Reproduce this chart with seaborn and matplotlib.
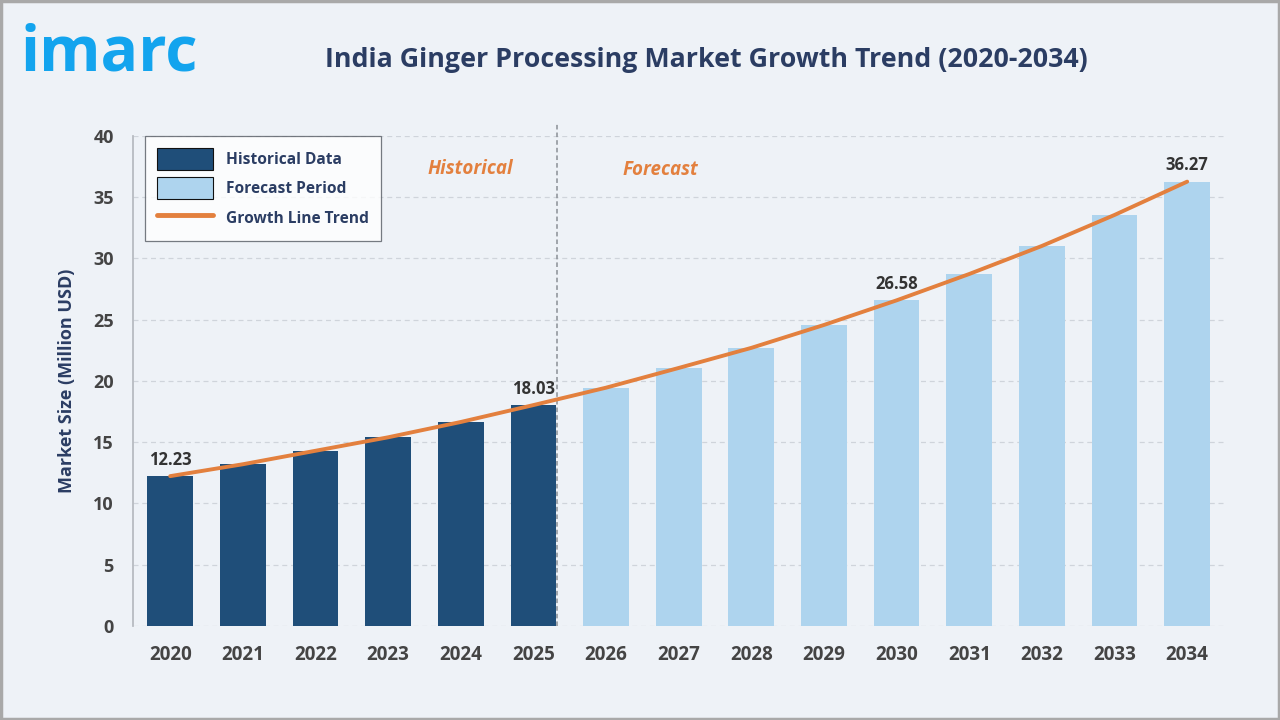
import numpy as np
import pandas as pd
import matplotlib.pyplot as plt
import seaborn as sns

years = ["2020", "2021", "2022", "2023", "2024", "2025", "2026", "2027",
         "2028", "2029", "2030", "2031", "2032", "2033", "2034"]
values = [12.23, 13.2, 14.3, 15.4, 16.65, 18.03, 19.45, 21.06,
          22.7, 24.57, 26.58, 28.73, 31.02, 33.55, 36.27]
periods = ["Historical Data"] * 6 + ["Forecast Period"] * 9
labelled = {"2020": "12.23", "2025": "18.03", "2030": "26.58", "2034": "36.27"}

navy = "#1f4e79"
light = "#aed4ee"
orange = "#e3803e"
title_col = "#2b3d63"
bg = "#eef2f7"

df = pd.DataFrame({"year": years, "value": values, "period": periods})

sns.set_theme(style="white")
plt.rcParams["font.family"] = ["Open Sans", "DejaVu Sans"]

fig = plt.figure(figsize=(12.8, 7.2), dpi=100)
fig.patch.set_facecolor(bg)
fig.patches.append(plt.Rectangle((0.001, 0.001), 0.998, 0.997, transform=fig.transFigure,
                                 fill=False, edgecolor="#a9a9a9", linewidth=2.5))
ax = fig.add_axes([0.104, 0.1306, 0.853, 0.6806])
ax.set_facecolor("none")

sns.barplot(data=df, x="year", y="value", hue="period",
            palette={"Historical Data": navy, "Forecast Period": light},
            dodge=False, width=0.63, saturation=1, linewidth=0,
            legend=False, ax=ax, zorder=2)

# growth trend line across bar centres
sns.lineplot(x=np.arange(len(years)), y=values, color=orange, linewidth=2.8,
             ax=ax, zorder=4)

for i, (yr, v) in enumerate(zip(years, values)):
    if yr in labelled:
        ax.text(i, v + 0.6, labelled[yr], ha="center", va="bottom",
                fontsize=12, fontweight="bold", color="#333333", zorder=5)

ax.set_ylim(0, 40)
ax.set_xlim(-0.51, len(years) - 0.48)
ax.set_yticks(range(0, 41, 5))
ax.yaxis.grid(True, linestyle=(0, (4, 3)), color="#cfd4db", linewidth=0.9, zorder=0)
ax.set_axisbelow(True)
for s in ["top", "right", "bottom"]:
    ax.spines[s].set_visible(False)
ax.spines["left"].set_color("#b5b9bf")
ax.tick_params(axis="x", length=0, labelsize=13.5, labelcolor="#444444", pad=14)
ax.tick_params(axis="y", length=0, labelsize=13, labelcolor="#444444", pad=14)
for lab in ax.get_xticklabels() + ax.get_yticklabels():
    lab.set_fontweight("bold")
ax.set_xlabel("")
ax.set_ylabel("Market Size (Million USD)", fontsize=13, fontweight="bold",
              color=title_col, labelpad=12)

# historical / forecast divider
ax.plot([5.33, 5.33], [0, 41.1], linestyle=(0, (3, 2)), color="#8a8f96",
        linewidth=1.1, clip_on=False, zorder=3)
ax.text(4.13, 37.3, "Historical", fontsize=13.5, fontweight="bold", style="italic",
        color=orange, ha="center", va="center")
ax.text(6.75, 37.2, "Forecast", fontsize=13.5, fontweight="bold", style="italic",
        color=orange, ha="center", va="center")

handles = [plt.Rectangle((0, 0), 1, 1, facecolor=navy, edgecolor="#111111", linewidth=0.8),
           plt.Rectangle((0, 0), 1, 1, facecolor=light, edgecolor="#111111", linewidth=0.8),
           plt.Line2D([0], [0], color=orange, linewidth=3.5)]
leg = ax.legend(handles, ["Historical Data", "Forecast Period", "Growth Line Trend"],
                loc="upper left", bbox_to_anchor=(0.011, 1.0), frameon=True, fancybox=False,
                fontsize=11.2, handlelength=3.6, handleheight=1.8, handletextpad=0.85,
                borderpad=0.75, labelspacing=0.5, borderaxespad=0)
leg.get_frame().set_edgecolor("#555b63")
leg.get_frame().set_linewidth(0.9)
for t in leg.get_texts():
    t.set_color(title_col)
    t.set_fontweight("bold")

fig.text(0.552, 0.917, "India Ginger Processing Market Growth Trend (2020-2034)",
         ha="center", va="center", fontsize=19.3, fontweight="bold", color=title_col)
fig.text(0.016, 0.925, "imarc", ha="left", va="center", fontsize=45,
         fontweight="bold", color="#13a4ee")

fig.savefig("out.png", dpi=100, facecolor=bg)
